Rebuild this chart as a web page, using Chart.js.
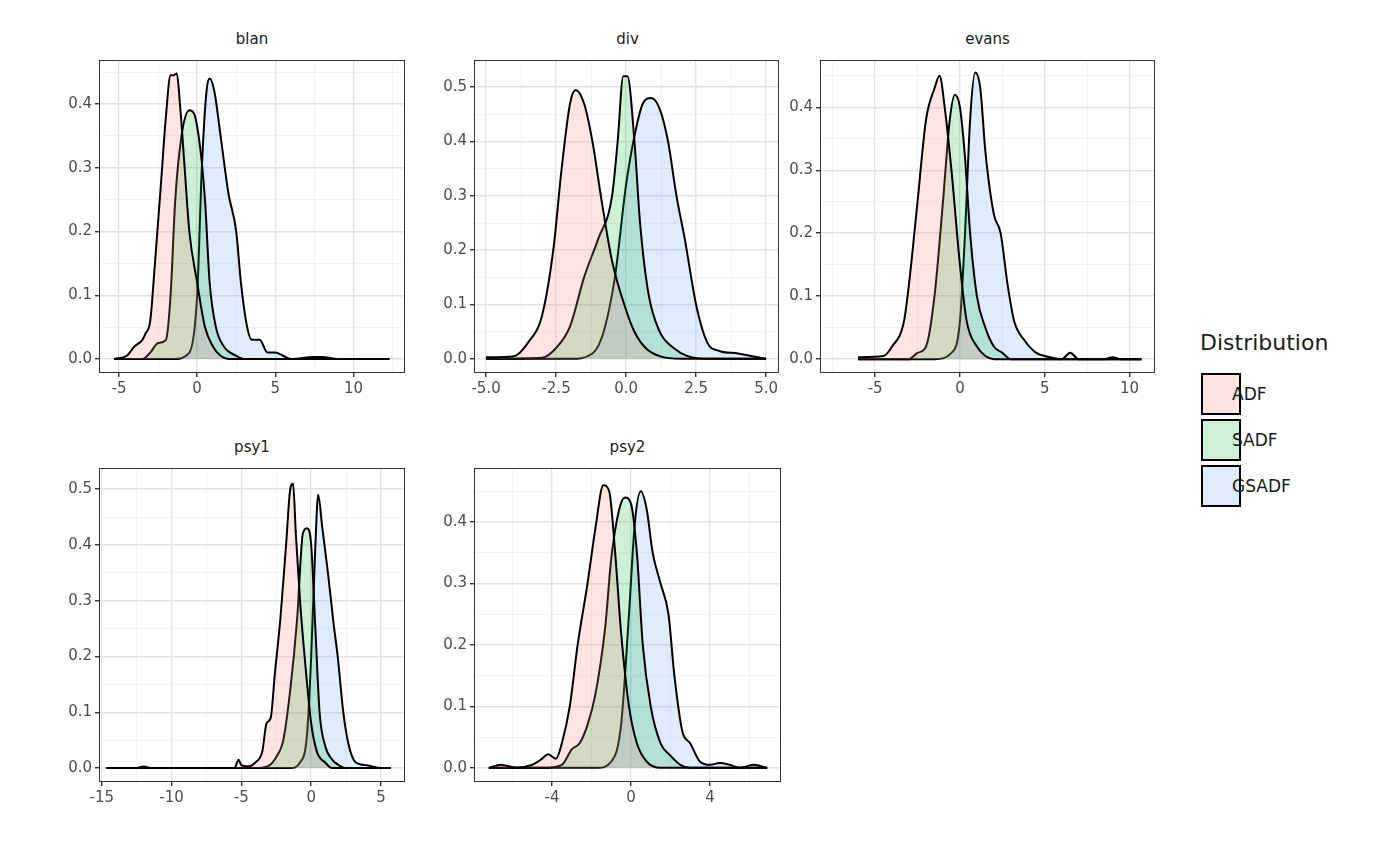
<!DOCTYPE html>
<html><head><meta charset="utf-8">
<script src="https://cdn.jsdelivr.net/npm/chart.js@4"></script>
<style>
body{margin:0;width:1400px;height:866px;background:#fff;font-family:"DejaVu Sans",sans-serif;position:relative;overflow:hidden}
canvas{position:absolute}
.t{position:absolute;font-size:15px;color:#1a1a1a;text-align:center}
.leg{position:absolute;font-size:17px;color:#1a1a1a}
.box{position:absolute;width:40px;height:42px;border:2px solid #000;box-sizing:border-box}
</style></head><body>
<div class="leg" style="left:1200px;top:330px;font-size:22px">Distribution</div>
<div class="box" style="left:1201px;top:373px;background:#fde3e1"></div>
<div class="box" style="left:1201px;top:419px;background:#ccf1d7"></div>
<div class="box" style="left:1201px;top:465px;background:#dfebff"></div>
<div class="leg" style="left:1232px;top:384px">ADF</div>
<div class="leg" style="left:1232px;top:430px">SADF</div>
<div class="leg" style="left:1232px;top:476px">GSADF</div>
<script>
const series = ["ADF","SADF","GSADF"];
const fills = ["rgba(248,118,109,0.2)","rgba(0,186,56,0.2)","rgba(97,156,255,0.2)"];

const blanADF=[[-5.3,0],[-4.5,0.005],[-4,0.02],[-3.5,0.03],[-3.3,0.04],[-3,0.06],[-2.7,0.15],[-2.3,0.28],[-2,0.38],[-1.7,0.445],[-1.5,0.445],[-1.3,0.448],[-1.1,0.40],[-0.8,0.30],[-0.5,0.20],[0,0.12],[0.5,0.05],[1,0.02],[1.5,0.005],[2,0],[12.3,0]];
const blanSADF=[[-5.3,0],[-3.5,0],[-3,0.01],[-2.5,0.025],[-2,0.03],[-1.7,0.1],[-1.4,0.25],[-1,0.35],[-0.5,0.39],[-0.2,0.385],[0.2,0.33],[0.5,0.25],[0.8,0.12],[1.2,0.05],[1.7,0.02],[2.5,0.005],[3,0],[12.3,0]];
const blanGSADF=[[-5.3,0],[-1.5,0],[-0.5,0.01],[0,0.1],[0.3,0.3],[0.6,0.42],[0.8,0.44],[1.1,0.42],[1.5,0.35],[2,0.26],[2.5,0.2],[2.8,0.12],[3.2,0.05],[3.5,0.03],[4,0.03],[4.5,0.01],[5,0.01],[5.5,0.005],[6,0],[7.5,0.003],[8,0.003],[9,0],[12.3,0]];

const divADF=[[-5,0.003],[-4,0.005],[-3.5,0.03],[-3,0.08],[-2.6,0.2],[-2.3,0.35],[-2,0.47],[-1.8,0.495],[-1.5,0.47],[-1.2,0.40],[-0.9,0.30],[-0.5,0.18],[0,0.09],[0.3,0.05],[0.7,0.02],[1.2,0.005],[2,0],[5,0]];
const divSADF=[[-5,0],[-3,0.002],[-2.5,0.02],[-2,0.06],[-1.5,0.15],[-1,0.22],[-0.5,0.30],[-0.3,0.40],[-0.1,0.52],[0.05,0.52],[0.3,0.40],[0.5,0.25],[0.8,0.12],[1.2,0.05],[1.7,0.02],[2.2,0.005],[3,0],[5,0]];
const divGSADF=[[-5,0],[-2,0],[-1.2,0.01],[-0.8,0.05],[-0.4,0.15],[0,0.32],[0.3,0.41],[0.6,0.47],[0.9,0.48],[1.2,0.46],[1.5,0.40],[1.8,0.30],[2.1,0.22],[2.5,0.10],[2.9,0.03],[3.3,0.015],[4,0.01],[4.5,0.005],[5,0]];

const evansADF=[[-6,0.003],[-4.5,0.005],[-4,0.02],[-3.3,0.06],[-3,0.12],[-2.5,0.25],[-2,0.38],[-1.5,0.43],[-1.2,0.45],[-0.9,0.40],[-0.5,0.30],[0,0.15],[0.4,0.06],[1,0.02],[1.5,0.005],[2,0],[10.7,0]];
const evansSADF=[[-6,0],[-3,0],[-2.5,0.01],[-2,0.02],[-1.5,0.10],[-1,0.25],[-0.6,0.38],[-0.3,0.42],[0,0.40],[0.3,0.32],[0.6,0.20],[1,0.10],[1.5,0.05],[2,0.02],[2.5,0.01],[3,0],[10.7,0]];
const evansGSADF=[[-6,0],[-1.5,0],[-0.5,0.01],[0,0.06],[0.3,0.2],[0.6,0.38],[0.9,0.455],[1.2,0.43],[1.5,0.33],[2,0.23],[2.4,0.20],[2.8,0.12],[3.2,0.06],[3.8,0.03],[4.5,0.01],[5,0.005],[6,0],[6.5,0.01],[7,0],[8.5,0],[9,0.003],[9.5,0],[10.7,0]];

const psy1ADF=[[-14.7,0],[-12.5,0],[-12,0.003],[-11.5,0],[-5.5,0],[-5.2,0.015],[-5,0.005],[-4.5,0.003],[-4,0.01],[-3.5,0.03],[-3.2,0.08],[-2.9,0.09],[-2.6,0.17],[-2.2,0.27],[-1.8,0.40],[-1.5,0.50],[-1.3,0.51],[-1.1,0.42],[-0.8,0.30],[-0.4,0.18],[0,0.08],[0.4,0.03],[1,0.01],[1.5,0],[5.7,0]];
const psy1SADF=[[-14.7,0],[-4,0],[-3,0.005],[-2.5,0.02],[-2,0.05],[-1.5,0.14],[-1,0.27],[-0.6,0.42],[-0.3,0.43],[0,0.40],[0.3,0.25],[0.6,0.10],[1,0.04],[1.5,0.015],[2,0.005],[2.5,0],[5.7,0]];
const psy1GSADF=[[-14.7,0],[-1.5,0],[-0.8,0.01],[-0.3,0.06],[0,0.2],[0.3,0.40],[0.5,0.49],[0.8,0.43],[1.2,0.35],[1.6,0.26],[1.9,0.20],[2.3,0.10],[2.7,0.04],[3.2,0.01],[4,0.005],[5,0],[5.7,0]];

const psy2ADF=[[-7.2,0],[-6.6,0.005],[-5.8,0],[-5,0.005],[-4.5,0.015],[-4.2,0.022],[-3.8,0.015],[-3.5,0.04],[-3.1,0.10],[-2.7,0.20],[-2.2,0.30],[-1.8,0.39],[-1.4,0.46],[-1.1,0.45],[-0.8,0.35],[-0.5,0.22],[-0.1,0.10],[0.3,0.04],[0.8,0.01],[1.5,0],[6.9,0]];
const psy2SADF=[[-7.2,0],[-4.5,0],[-3.5,0.005],[-3,0.03],[-2.6,0.04],[-2.2,0.07],[-1.8,0.12],[-1.3,0.23],[-1,0.34],[-0.6,0.42],[-0.3,0.44],[0,0.43],[0.3,0.35],[0.6,0.20],[1,0.10],[1.5,0.04],[2,0.02],[2.5,0.005],[3,0],[6.9,0]];
const psy2GSADF=[[-7.2,0],[-1.7,0],[-1,0.01],[-0.5,0.07],[-0.1,0.25],[0.2,0.40],[0.5,0.45],[0.8,0.42],[1.1,0.35],[1.5,0.30],[1.9,0.25],[2.2,0.15],[2.6,0.06],[3,0.04],[3.5,0.01],[4,0.005],[4.5,0.008],[5,0.005],[5.5,0],[6.2,0.005],[6.9,0]];

const panels=[
 {name:"blan",data:[blanADF,blanSADF,blanGSADF],L:99,T:60,W:306,H:313,xmin:-6.28,xmax:13.3,xstep:2.5,xmaj:5,xdec:0,ymin:-0.022,ymax:0.469,ystep:0.05,ymaj:0.1},
 {name:"div",data:[divADF,divSADF,divGSADF],L:474,T:60,W:307,H:313,xmin:-5.43,xmax:5.46,xstep:1.25,xmaj:2.5,xdec:1,ymin:-0.026,ymax:0.55,ystep:0.05,ymaj:0.1},
 {name:"evans",data:[evansADF,evansSADF,evansGSADF],L:820,T:60,W:335,H:313,xmin:-8.25,xmax:11.5,xstep:2.5,xmaj:5,xdec:0,ymin:-0.022,ymax:0.475,ystep:0.05,ymaj:0.1},
 {name:"psy1",data:[psy1ADF,psy1SADF,psy1GSADF],L:99,T:468,W:306,H:314,xmin:-15.2,xmax:6.72,xstep:2.5,xmaj:5,xdec:0,ymin:-0.025,ymax:0.538,ystep:0.05,ymaj:0.1},
 {name:"psy2",data:[psy2ADF,psy2SADF,psy2GSADF],L:474,T:468,W:307,H:314,xmin:-7.95,xmax:7.6,xstep:2,xmaj:4,xdec:0,ymin:-0.023,ymax:0.488,ystep:0.05,ymaj:0.1}
];

const isMaj=(v,m)=>Math.abs(v/m-Math.round(v/m))<1e-6;
const border={id:'border',afterDraw(c){const a=c.chartArea,x=c.ctx;x.save();x.strokeStyle='#333';x.lineWidth=1;x.strokeRect(a.left+0.5,a.top+0.5,a.width-1,a.height-1);x.restore();}};

function axis(min,max,step,maj,dec,isX){
 return {type:'linear',min,max,
  afterBuildTicks(s){const t=[];for(let v=Math.ceil(min/step)*step;v<=max+1e-9;v+=step)t.push({value:Math.round(v*1000)/1000});s.ticks=t;},
  afterFit(s){if(isX)s.height=40;else s.width=50;},
  border:{display:false},
  grid:{color:c=>isMaj(c.tick.value,maj)?'#e3e3e3':'#f0f0f0',lineWidth:c=>isMaj(c.tick.value,maj)?1.4:0.8,tickLength:4,tickColor:c=>isMaj(c.tick.value,maj)?'#333':'rgba(0,0,0,0)',drawTicks:true},
  ticks:{autoSkip:false,maxRotation:0,color:'#4d4d4d',font:{size:15,family:'DejaVu Sans'},padding:3,
   callback:v=>isMaj(v,maj)?(v.toFixed(dec)):''}};
}

const PADTOP=12;
panels.forEach(p=>{
 const t=document.createElement('div');t.className='t';t.textContent=p.name;
 t.style.left=p.L+'px';t.style.width=p.W+'px';t.style.top=(p.T-30)+'px';document.body.appendChild(t);
 const cv=document.createElement('canvas');
 cv.style.left=(p.L-50)+'px';cv.style.top=(p.T-PADTOP)+'px';cv.style.width=(p.W+50)+'px';cv.style.height=(p.H+40+PADTOP)+'px';
 cv.width=p.W+50;cv.height=p.H+40+PADTOP;document.body.appendChild(cv);
 new Chart(cv,{type:'line',
  data:{datasets:p.data.map((d,i)=>({label:series[i],data:d.map(q=>({x:q[0],y:q[1]})),fill:'origin',backgroundColor:fills[i],borderColor:'#000',borderWidth:2,pointRadius:0,cubicInterpolationMode:'monotone'}))},
  options:{responsive:false,animation:false,layout:{padding:0},
   plugins:{legend:{display:false},tooltip:{enabled:false}},
   scales:{x:axis(p.xmin,p.xmax,p.xstep,p.xmaj,p.xdec,true),y:axis(p.ymin,p.ymax,p.ystep,p.ymaj,1,false)}},
  plugins:[border]});
});
</script></body></html>
